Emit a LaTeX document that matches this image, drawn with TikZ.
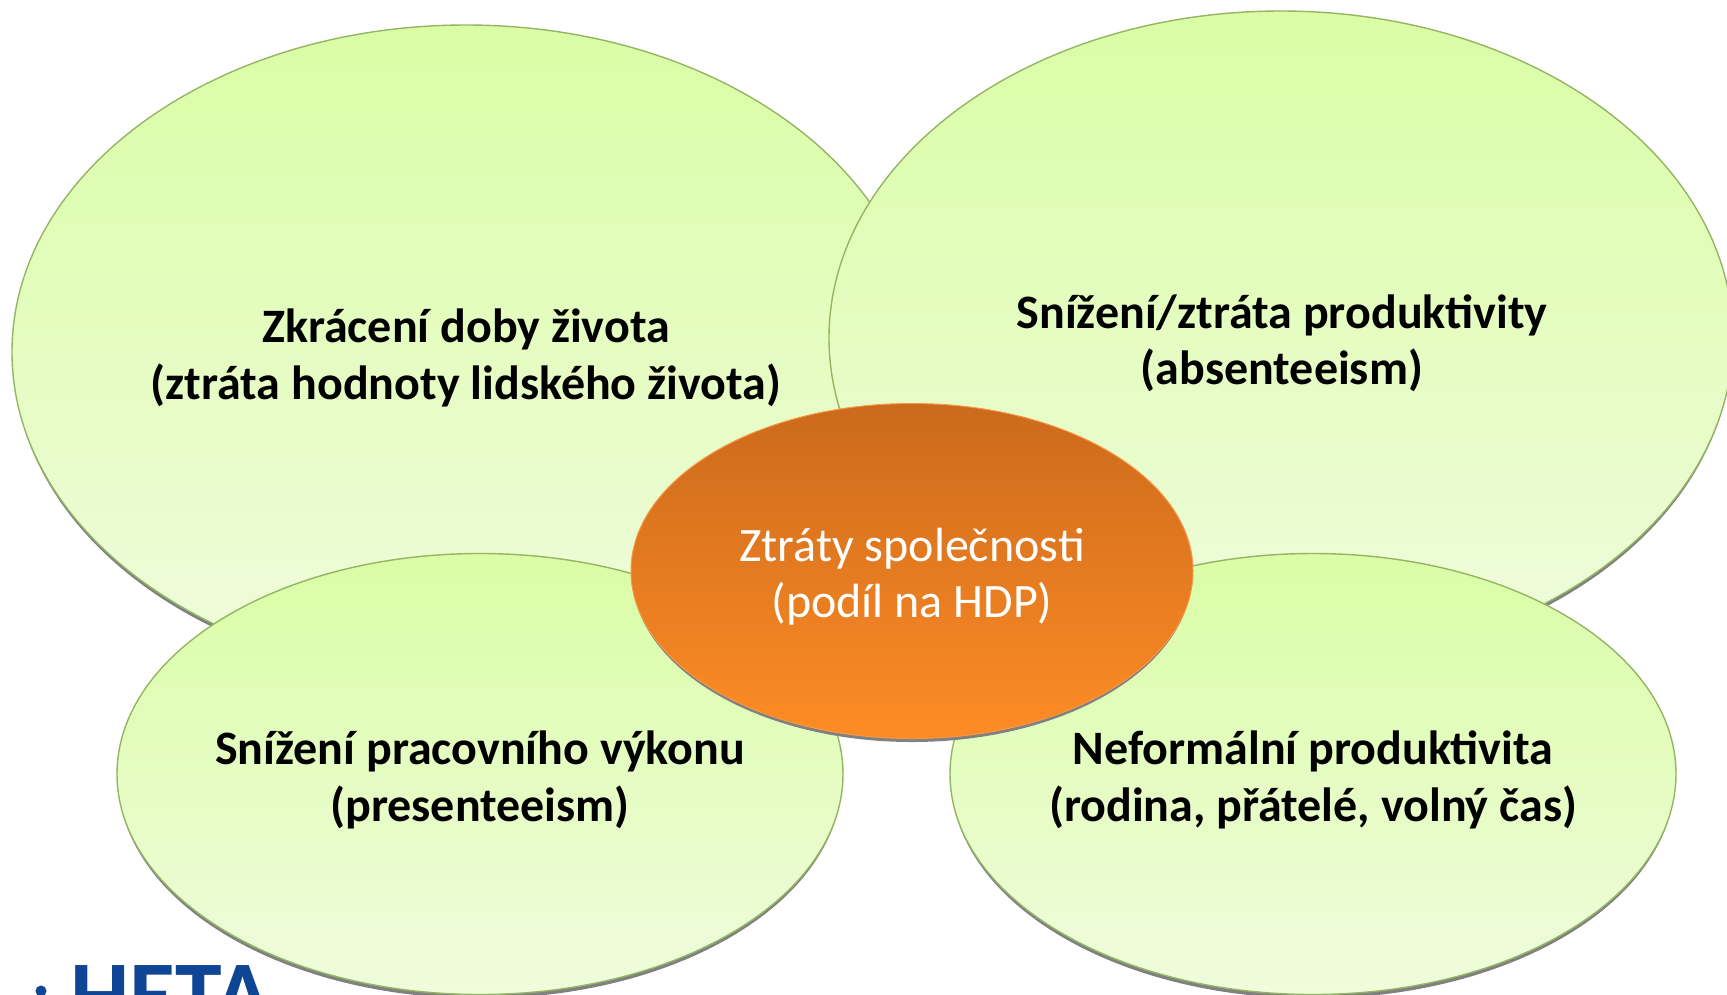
\documentclass[tikz,border=0pt]{standalone}
\usepackage{fontspec}
\setmainfont{Carlito}
\usetikzlibrary{shapes.geometric}
\definecolor{gtop}{HTML}{DAFDA6}
\definecolor{gbot}{HTML}{F0FCDD}
\definecolor{gline}{HTML}{94B562}
\definecolor{otop}{HTML}{CB6A1C}
\definecolor{obot}{HTML}{FE8C25}
\definecolor{oline}{HTML}{F79646}
\definecolor{logoblue}{HTML}{0F4595}
\tikzset{
 bubble/.style={ellipse,inner sep=0pt,draw=gline,line width=1.4pt,top color=gtop,bottom color=gbot},
 bubbleshade/.style={ellipse,inner sep=0pt,fill=black!50},
 hub/.style={ellipse,inner sep=0pt,draw=oline,line width=1pt,top color=otop,bottom color=obot},
 boldtext/.style={inner sep=0pt,align=center,text=black,font=\fontsize{48}{56.5}\selectfont\bfseries},
 hubtext/.style={inner sep=0pt,align=center,text=white,font=\fontsize{48}{56.5}\selectfont},
}
\begin{document}
\begin{tikzpicture}[x=1pt,y=-1pt]
\useasboundingbox (0,0) rectangle (1727,994);
\clip (0,0) rectangle (1727,994);
% logo
\node[anchor=base west,inner sep=0pt,text=logoblue,font=\fontsize{94}{94}\selectfont\bfseries] (logo) at (70,1026) {HETA};
\fill[logoblue] (41,991) circle (5.5) coordinate (logodot);
% large
\node[bubbleshade,minimum width=906,minimum height=654] (s1) at (466,356) {};
\node[bubble,minimum width=908,minimum height=654] (e1) at (466,352) {};
\node[boldtext] (t1) at (466,358) {Zkrácení doby života\\(ztráta hodnoty lidského života)};
\node[bubbleshade,minimum width=902,minimum height=654] (s2) at (1281,342) {};
\node[bubble,minimum width=904,minimum height=654] (e2) at (1281,338) {};
\node[boldtext] (t2) at (1282,343) {Snížení/ztráta produktivity\\(absenteeism)};
\node[bubbleshade,minimum width=724,minimum height=441] (s3) at (480,778) {};
\node[bubble,minimum width=726,minimum height=441] (e3) at (480,774) {};
\node[boldtext] (t3) at (480,780) {Snížení pracovního výkonu\\(presenteeism)};
\node[bubbleshade,minimum width=724,minimum height=441] (s4) at (1313,778) {};
\node[bubble,minimum width=726,minimum height=441] (e4) at (1313,774) {};
\node[boldtext] (t4) at (1313,780) {Neformální produktivita\\(rodina, přátelé, volný čas)};
\node[bubbleshade,minimum width=560,minimum height=336] (s5) at (912,574) {};
\node[hub,minimum width=562,minimum height=335] (c) at (912,571) {};
\node[hubtext] (t5) at (912,576.5) {Ztráty společnosti\\(podíl na HDP)};
\end{tikzpicture}
\end{document}
